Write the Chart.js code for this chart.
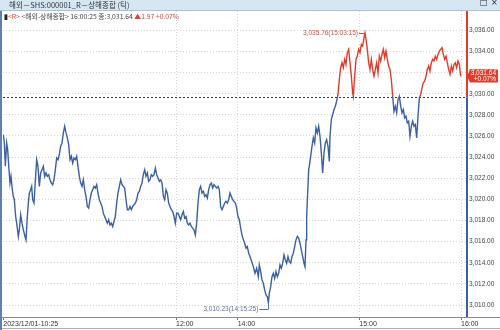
<!DOCTYPE html>
<html>
<head>
<meta charset="utf-8">
<script src="https://cdn.jsdelivr.net/npm/chart.js@4.4.0/dist/chart.umd.min.js"></script>
<style>
  body { margin: 0; background: #fff; }
  #wrap { position: relative; width: 500px; height: 330px; overflow: hidden; font-family: "Noto Sans CJK KR", sans-serif; }
  #bar { position: absolute; left: 0; top: 0; width: 500px; height: 10px; background: #d7e6f3; border-bottom: 1px solid #a9c1d9; }
  #bar .title { position: absolute; left: 9px; top: -1px; font-size: 7.5px; color: #333; white-space: nowrap; }
  #bar .btn { position: absolute; top: -2px; font-size: 8px; color: #222; font-family: "DejaVu Sans", sans-serif; }
  #legend { position: absolute; left: 4px; top: 11px; font-size: 6.8px; color: #444; white-space: nowrap; }
  #legend .r { color: #d8463a; }
  #leftbar { position: absolute; left: 0; top: 11px; width: 2px; height: 319px; background: #5f7fae; }
  canvas { position: absolute; left: 0; top: 0; }
</style>
</head>
<body>
<div id="wrap">
  <canvas id="chart" width="500" height="330"></canvas>
  <div id="bar"><span class="title">해외－SHS:000001_R－상해종합 (틱)</span><span class="btn" style="left:480px">□</span><span class="btn" style="left:491px">×</span></div>
  <div id="legend"><b style="color:#222">▮</b><span class="r">&lt;R&gt;</span> &lt;해외-상해종합&gt; 16:00:25 종:3,031.64 <span class="r">▲1.97 +0.07%</span></div>
  <div id="leftbar"></div>
</div>
<script>
// 틱 번호 (체결 순서)
const tickNo = [0, 3, 6, 10, 13, 17, 20, 23, 27, 30, 33, 37, 40, 45, 48, 52, 56, 60, 65, 68,
  72, 75, 78, 82, 85, 88, 92, 95,
  100, 104, 108, 112, 116, 120, 124, 128, 132, 136, 140, 144, 148, 152, 156, 160, 164, 168, 172, 176,
  180, 184, 188, 192, 196, 200, 204, 208, 212, 216, 220, 224, 228, 232, 236, 240, 244, 248, 252, 256,
  260, 264, 268, 272, 276, 280, 284, 288, 292, 296, 300, 304, 308, 312, 316, 320, 324, 328, 332, 336,
  340, 344, 348, 352, 356, 360, 364, 368, 372, 376, 380, 384, 388, 392, 396, 400, 404, 408, 412, 416,
  420, 424, 428, 432, 436, 440, 444, 448, 452, 456, 460, 464, 468, 472, 476, 480, 484, 488, 492, 496,
  500, 504, 508, 512, 516, 520, 524, 528, 532, 536, 540, 544, 548, 552, 556, 560, 564, 568, 572, 576,
  580, 584, 588, 592, 596, 600, 604, 608, 612, 616, 620, 624, 628, 632, 636, 640, 644, 648, 652, 656,
  660, 664, 668, 672, 676, 680, 684, 688, 692, 696, 700, 704, 708, 712, 716, 720, 724, 728, 732, 736, 740,
  745, 750, 755, 760, 765, 768, 772, 776, 780, 784, 788, 792, 795, 798, 802, 806, 810, 814, 818, 822,
  826, 830, 834, 838, 842, 846, 850, 854, 858, 862, 866, 870, 874, 878, 882, 886, 890, 894, 898, 902,
  905, 908, 910, 913, 916,
  918, 922, 926, 930, 934, 938, 942, 946, 950, 954, 958, 962, 966, 970, 974, 978,
  980, 984, 988, 992, 996, 1000, 1004, 1008, 1012, 1016, 1020, 1024, 1028, 1032, 1036, 1040, 1044, 1048,
  1050, 1054, 1058, 1062, 1066, 1070, 1074, 1078, 1082, 1085, 1088,
  1092, 1096, 1100, 1104, 1108, 1112, 1116, 1120, 1124, 1128, 1132, 1136, 1140, 1144, 1148, 1152, 1156, 1160,
  1164, 1168, 1172, 1176, 1180, 1184, 1188, 1192, 1196, 1200, 1204, 1208, 1212, 1216, 1220, 1224, 1228, 1232,
  1236, 1240, 1244, 1248, 1252, 1256, 1260, 1264, 1268, 1272, 1276, 1280, 1284, 1288, 1292, 1296, 1300, 1304,
  1308, 1312, 1316, 1320, 1324, 1328, 1332, 1336, 1340, 1344, 1348, 1352, 1356, 1360, 1364, 1368, 1372];

// 지수 값
const price = [3026.13, 3025.34, 3023.13, 3025.34, 3024.71, 3022.81, 3021.55, 3022.18, 3020.91, 3020.28,
  3019.97, 3018.38, 3017.75, 3016.49, 3017.12, 3018.54, 3017.75, 3017.12, 3016.49, 3016.17,
  3018.38, 3019.65, 3020.60, 3020.91, 3021.23, 3019.97, 3019.65, 3021.23,
  3023.76, 3023.13, 3021.23, 3022.50, 3022.81, 3023.13, 3022.18, 3022.50, 3022.18, 3022.34,
  3021.86, 3021.55, 3021.39, 3021.86, 3022.81, 3023.92, 3023.76, 3024.24, 3025.03, 3025.34,
  3026.29, 3026.92, 3026.29, 3025.82, 3025.18, 3023.76, 3024.08, 3023.44, 3023.92, 3023.76,
  3024.08, 3023.13, 3022.18, 3021.55, 3021.23, 3021.86, 3020.91, 3020.28, 3019.33, 3019.17,
  3019.97, 3020.60, 3020.91, 3021.23, 3021.07, 3021.39, 3020.60, 3019.97, 3019.65, 3019.33,
  3018.70, 3018.38, 3018.07, 3017.75, 3018.07, 3017.59, 3017.75, 3017.44, 3017.91, 3018.38,
  3019.65, 3020.60, 3021.23, 3021.86, 3021.39, 3021.23, 3021.07, 3019.97, 3019.02, 3019.02,
  3019.33, 3019.02, 3019.33, 3019.49, 3019.65, 3019.97, 3020.60, 3020.76, 3021.23, 3021.55,
  3022.34, 3022.81, 3022.18, 3022.50, 3021.71, 3021.86, 3022.34, 3022.18, 3022.34, 3022.97,
  3022.34, 3022.02, 3021.71, 3021.86, 3021.55, 3020.28, 3019.97, 3020.91, 3020.60, 3019.65,
  3019.33, 3019.02, 3018.86, 3018.38, 3017.75, 3018.70, 3018.70, 3018.38, 3018.07, 3018.54,
  3018.86, 3018.23, 3018.38, 3017.75, 3017.59, 3017.75, 3017.44, 3017.28, 3017.12, 3016.64,
  3017.75, 3019.65, 3020.91, 3021.23, 3020.60, 3020.76, 3020.28, 3020.44, 3020.12, 3020.91,
  3021.39, 3021.55, 3021.07, 3021.39, 3021.23, 3021.07, 3021.23, 3020.91, 3019.33, 3019.02,
  3019.33, 3019.65, 3019.81, 3019.65, 3019.97, 3020.60, 3020.28, 3019.97, 3019.81, 3019.65,
  3019.17, 3018.38, 3018.07, 3017.28, 3016.64, 3016.17, 3015.85, 3015.38, 3015.54, 3014.91, 3014.59,
  3014.12, 3013.64, 3013.01, 3013.48, 3012.69, 3013.80, 3013.17, 3012.38, 3012.06, 3011.43,
  3010.95, 3010.79, 3010.23, 3011.11, 3011.74, 3012.69, 3013.01, 3012.53, 3013.17, 3012.69,
  3013.01, 3013.80, 3013.48, 3013.96, 3014.75, 3014.27, 3013.96, 3014.59, 3014.12, 3013.96,
  3014.59, 3014.91, 3015.54, 3016.17, 3016.49, 3016.33, 3015.85, 3015.22, 3014.59, 3013.96,
  3013.64, 3016.17, 3018.38, 3020.60, 3022.81,
  3023.13, 3024.08, 3025.03, 3025.82, 3025.34, 3026.77, 3026.29, 3026.92, 3025.97, 3024.39,
  3022.50, 3024.39, 3025.34, 3025.66, 3025.03, 3023.60,
  3025.97, 3027.56, 3028.03, 3028.50, 3028.82, 3029.30, 3029.93, 3031.35, 3032.46, 3032.93,
  3032.46, 3033.25, 3032.77, 3033.88, 3034.20, 3032.93, 3031.67, 3030.09,
  3029.77, 3031.67, 3033.25, 3033.56, 3034.20, 3033.88, 3034.67, 3034.51, 3035.30, 3035.76, 3035.15,
  3034.20, 3032.93, 3032.30, 3033.25, 3032.30, 3031.67, 3032.30, 3032.93, 3031.98, 3033.56,
  3033.09, 3033.72, 3034.20, 3033.41, 3034.04, 3033.25, 3032.62, 3032.30, 3031.35, 3029.77,
  3028.35, 3028.82, 3028.19, 3029.45, 3029.77, 3028.82, 3028.19, 3028.50, 3027.71, 3027.87,
  3027.24, 3027.40, 3025.97, 3026.92, 3027.40, 3026.92, 3027.08, 3025.82, 3027.87, 3029.61,
  3029.93, 3030.56, 3031.03, 3031.19, 3031.67, 3032.30, 3032.62, 3032.14, 3032.93, 3033.25,
  3033.09, 3033.56, 3033.25, 3033.72, 3034.04, 3034.20, 3034.36, 3033.72, 3033.25, 3033.56,
  3032.93, 3032.30, 3031.83, 3032.62, 3032.14, 3032.77, 3032.93, 3032.46, 3033.09, 3032.77, 3031.64];

// 시간 눈금
const timeTickNo = [0, 518, 703, 1068, 1373];
const timeLabels = ['2023/12/01-10:25', '12:00', '14:00', '15:00', '16:00'];
const priceTicks = [3010, 3012, 3014, 3016, 3018, 3020, 3022, 3024, 3026, 3028, 3030, 3032, 3034, 3036];

const prevClose = 3029.67;
const lastPrice = 3031.64;
const lastRate = '+0.07%';
const hiLabel = '3,035.76(15:03:15)';
const loLabel = '3,010.23(14:15:25)';

const RED = '#e23b2b';
const BLUE = '#3a60a3';

function fmt(v) {
  return v.toLocaleString('en-US', { minimumFractionDigits: 2, maximumFractionDigits: 2 });
}

function splitColor(ctx) {
  const chart = ctx.chart;
  const area = chart.chartArea;
  if (!area) return BLUE;
  const yb = chart.scales.y.getPixelForValue(prevClose);
  const f = Math.min(1, Math.max(0, (yb - area.top) / (area.bottom - area.top)));
  const g = chart.ctx.createLinearGradient(0, area.top, 0, area.bottom);
  g.addColorStop(0, RED);
  g.addColorStop(f, RED);
  g.addColorStop(f, BLUE);
  g.addColorStop(1, BLUE);
  return g;
}

const extras = {
  id: 'extras',
  beforeDatasetsDraw(chart) {
    const { ctx, chartArea: a, scales: { y } } = chart;
    const yb = Math.round(y.getPixelForValue(prevClose)) + 0.5;
    ctx.save();
    ctx.strokeStyle = '#333';
    ctx.lineWidth = 1;
    ctx.setLineDash([2, 2]);
    ctx.beginPath();
    ctx.moveTo(a.left, yb);
    ctx.lineTo(a.right, yb);
    ctx.stroke();
    ctx.restore();
  },
  afterDraw(chart) {
    const { ctx, chartArea: a, scales: { x, y } } = chart;
    const yb = y.getPixelForValue(prevClose);
    ctx.save();
    // 오른쪽 축선
    ctx.lineWidth = 2;
    ctx.strokeStyle = RED;
    ctx.beginPath(); ctx.moveTo(a.right + 1, a.top); ctx.lineTo(a.right + 1, yb); ctx.stroke();
    ctx.strokeStyle = BLUE;
    ctx.beginPath(); ctx.moveTo(a.right + 1, yb); ctx.lineTo(a.right + 1, a.bottom); ctx.stroke();
    // 아래 축선
    ctx.lineWidth = 1;
    ctx.strokeStyle = '#8c8c8c';
    ctx.beginPath(); ctx.moveTo(0, a.bottom + 0.5); ctx.lineTo(500, a.bottom + 0.5); ctx.stroke();
    ctx.strokeStyle = '#b0b0b0';
    ctx.beginPath(); ctx.moveTo(0, 328.5); ctx.lineTo(500, 328.5); ctx.stroke();

    // 현재가 박스
    const yl = y.getPixelForValue(lastPrice);
    ctx.fillStyle = RED;
    ctx.beginPath();
    ctx.moveTo(a.right + 1, yl);
    ctx.lineTo(a.right + 4, yl - 7);
    ctx.lineTo(498, yl - 7);
    ctx.lineTo(498, yl + 6);
    ctx.lineTo(a.right + 4, yl + 6);
    ctx.closePath();
    ctx.fill();
    ctx.fillStyle = '#fff';
    ctx.font = '6.5px "Liberation Sans", sans-serif';
    ctx.textAlign = 'right';
    ctx.textBaseline = 'middle';
    ctx.fillText(fmt(lastPrice), 496, yl - 3.5);
    ctx.fillText(lastRate, 496, yl + 2.5);

    // 고가 / 저가 표시
    const hiIdx = price.indexOf(Math.max(...price));
    const loIdx = price.indexOf(Math.min(...price));
    const hx = x.getPixelForValue(tickNo[hiIdx]);
    const hy = y.getPixelForValue(price[hiIdx]);
    const lx = x.getPixelForValue(tickNo[loIdx]);
    const ly = y.getPixelForValue(price[loIdx]);
    ctx.font = '6.5px "Liberation Sans", sans-serif';
    ctx.textBaseline = 'middle';
    ctx.lineWidth = 1;

    ctx.fillStyle = '#d4503f';
    ctx.strokeStyle = '#d4503f';
    ctx.textAlign = 'right';
    ctx.fillText(hiLabel, hx - 7, hy);
    ctx.beginPath(); ctx.moveTo(hx - 6, Math.round(hy) + 0.5); ctx.lineTo(hx, Math.round(hy) + 0.5); ctx.stroke();

    const ty = ly + 6.5;
    ctx.fillStyle = '#5675ab';
    ctx.strokeStyle = '#5675ab';
    ctx.fillText(loLabel, lx - 10, ty);
    ctx.beginPath();
    ctx.moveTo(lx - 9, Math.round(ty) + 0.5);
    ctx.lineTo(Math.round(lx) + 0.5, Math.round(ty) + 0.5);
    ctx.lineTo(Math.round(lx) + 0.5, ly);
    ctx.stroke();
    ctx.restore();
  }
};

new Chart(document.getElementById('chart'), {
  type: 'line',
  data: {
    datasets: [{
      data: tickNo.map((t, i) => ({ x: t, y: price[i] })),
      borderColor: splitColor,
      borderWidth: 1.4,
      pointRadius: 0,
      tension: 0,
      fill: false
    }]
  },
  options: {
    responsive: false,
    animation: false,
    layout: { padding: { top: 11, left: 3, right: 0, bottom: 0 } },
    plugins: { legend: { display: false }, tooltip: { enabled: false } },
    scales: {
      x: {
        type: 'linear',
        min: -1,
        max: 1388,
        afterBuildTicks(scale) { scale.ticks = timeTickNo.map(v => ({ value: v })); },
        afterFit(scale) { scale.height = 13; },
        ticks: {
          autoSkip: false,
          maxRotation: 0,
          align: 'start',
          padding: 0,
          color: '#333',
          font: { family: 'Liberation Sans', size: 7 },
          callback: (v) => timeLabels[timeTickNo.indexOf(v)]
        },
        grid: {
          color: (c) => c.tick && c.tick.value === 0 ? 'rgba(0,0,0,0)' : '#d6d6d6',
          tickColor: '#777',
          tickLength: 3
        },
        border: { display: false, dash: [1, 2] }
      },
      y: {
        position: 'right',
        min: 3008.87,
        max: 3037.83,
        afterBuildTicks(scale) { scale.ticks = priceTicks.map(v => ({ value: v })); },
        afterFit(scale) { scale.width = 34; },
        ticks: {
          padding: 3,
          color: '#444',
          font: { family: 'Liberation Sans', size: 6.5 },
          callback: (v) => fmt(v)
        },
        grid: { color: '#d6d6d6', drawTicks: false },
        border: { display: false, dash: [1, 2] }
      }
    }
  },
  plugins: [extras]
});
</script>
</body>
</html>
